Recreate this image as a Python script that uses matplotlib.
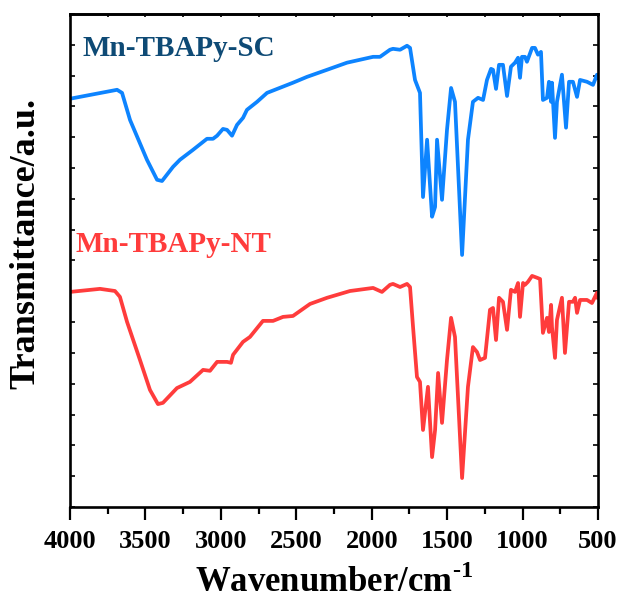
import numpy as np
import matplotlib
matplotlib.use("Agg")
import matplotlib.pyplot as plt

plt.rcParams['font.family'] = ['Liberation Serif', 'DejaVu Serif']
plt.rcParams['font.weight'] = 'bold'
plt.rcParams['mathtext.fontset'] = 'custom'
plt.rcParams['mathtext.rm'] = 'Liberation Serif:bold'
plt.rcParams['mathtext.bf'] = 'Liberation Serif:bold'

# FTIR spektra (transmitancja w j.u.)
sc_wn = [4000, 3688, 3655, 3602, 3490, 3423, 3390, 3317, 3271, 3185, 3092, 3052,
         3025, 2986, 2959, 2926, 2893, 2853, 2827, 2760, 2694, 2522, 2429, 2296,
         2164, 1991, 1945, 1879, 1859, 1812, 1766, 1746, 1713, 1680, 1660, 1633,
         1600, 1580, 1567, 1534, 1501, 1474, 1448, 1401, 1362, 1329, 1295, 1262,
         1236, 1209, 1196, 1176, 1156, 1130, 1103, 1077, 1050, 1030, 1017, 1004,
         984, 971, 937, 918, 898, 878, 865, 838, 825, 811, 805, 785, 772, 739,
         712, 692, 666, 639, 619, 573, 533, 507, 500]
sc_t = [13.25, 13.54, 13.44, 12.56, 11.27, 10.62, 10.58, 11.04, 11.27, 11.59, 11.95, 11.95,
        12.05, 12.27, 12.24, 12.05, 12.40, 12.63, 12.89, 13.15, 13.44, 13.77, 13.96, 14.19,
        14.42, 14.61, 14.61, 14.84, 14.87, 14.84, 14.97, 14.90, 13.86, 13.44, 10.06, 11.92,
        9.42, 9.74, 11.92, 9.97, 12.24, 13.60, 13.15, 8.18, 11.92, 13.15, 13.28, 13.21,
        13.86, 14.22, 14.19, 13.57, 14.35, 14.35, 13.34, 14.29, 14.42, 14.58, 13.93, 14.61,
        14.61, 14.45, 14.90, 14.90, 14.68, 14.77, 13.21, 13.28, 13.80, 13.15, 13.77, 11.98, 13.15, 14.03,
        12.31, 13.80, 13.80, 13.31, 13.86, 13.80, 13.70, 14.03, 13.93]

nt_wn = [4000, 3801, 3702, 3669, 3622, 3536, 3470, 3417, 3384, 3291, 3205, 3118,
         3072, 3025, 2959, 2933, 2919, 2853, 2807, 2721, 2654, 2588, 2522, 2409,
         2296, 2144, 1991, 1932, 1879, 1859, 1812, 1766, 1746, 1726, 1700, 1680,
         1660, 1627, 1600, 1580, 1560, 1534, 1501, 1474, 1448, 1401, 1362, 1329,
         1302, 1282, 1249, 1216, 1196, 1176, 1156, 1130, 1103, 1077, 1050, 1030,
         1017, 997, 984, 964, 937, 904, 884, 865, 838, 825, 811, 805, 785, 772,
         739, 719, 692, 666, 652, 639, 619, 573, 540, 507, 500]
nt_t = [6.98, 7.08, 7.01, 6.82, 6.01, 4.77, 3.80, 3.34, 3.38, 3.86, 4.06, 4.45,
        4.42, 4.71, 4.71, 4.68, 4.94, 5.36, 5.52, 6.04, 6.04, 6.17, 6.20, 6.59,
        6.79, 7.01, 7.11, 6.98, 7.21, 7.24, 7.14, 7.24, 7.14, 5.84, 4.22, 4.06,
        2.50, 3.90, 1.62, 2.50, 4.35, 2.73, 4.77, 6.14, 5.52, 0.94, 3.90, 5.19,
        5.03, 4.77, 4.84, 6.40, 6.46, 5.42, 6.79, 6.66, 5.75, 7.05, 6.98, 7.27,
        6.17, 7.27, 7.21, 7.31, 7.50, 7.44, 7.40, 5.65, 6.14, 5.68, 6.56, 5.84, 4.84, 6.07,
        6.79, 5.00, 6.66, 6.66, 6.79, 6.30, 6.72, 6.72, 6.62, 6.95, 6.79]

x_ticks = [4000, 3500, 3000, 2500, 2000, 1500, 1000, 500]

fig = plt.figure(figsize=(6.23, 6.03), dpi=100)
ax = fig.add_axes([70 / 623, 1 - 507 / 603, 528 / 623, 493 / 603])

ax.plot(sc_wn, sc_t, color='#0d84ff', lw=2.7, solid_joinstyle='round')
ax.plot(nt_wn, nt_t, color='#ff3c3c', lw=2.7, solid_joinstyle='round')

ax.set_xlim(4000, 500)
ax.set_ylim(0, 16)
ax.set_xticks(x_ticks)
ax.set_xticks(np.arange(500, 4001, 250), minor=True)
ax.set_yticks(np.arange(0, 17, 1))
ax.set_yticklabels([])

for s in ax.spines.values():
    s.set_linewidth(1.9)

ax.tick_params(axis='x', which='major', direction='out', length=9, width=1.6,
               labelsize=19, pad=7.5)
ax.tick_params(axis='x', which='minor', direction='out', length=5, width=1.6)
ax.tick_params(axis='y', which='major', direction='in', length=3.5, width=1.2,
               left=True, right=True)

top = ax.secondary_xaxis('top')
top.set_xticks(np.arange(500, 4001, 250))
top.tick_params(direction='in', length=2.5, width=1.2, labeltop=False)
top.spines['top'].set_linewidth(1.9)

ax.set_xlabel('Wavenumber/cm$^{\\text{-1}}$', fontsize=25, fontweight='bold', labelpad=9)
ax.set_ylabel('Transmittance/a.u.', fontsize=26, fontweight='bold')
ax.yaxis.set_label_coords(-0.053, 0.535)

ax.text(0.023, 0.915, 'Mn-TBAPy-SC', transform=ax.transAxes, fontsize=21,
        fontweight='bold', color='#0e4a75', va='baseline')
ax.text(0.0095, 0.517, 'Mn-TBAPy-NT', transform=ax.transAxes, fontsize=21,
        fontweight='bold', color='#ff3c3c', va='baseline')

plt.savefig('out.png', dpi=100)
